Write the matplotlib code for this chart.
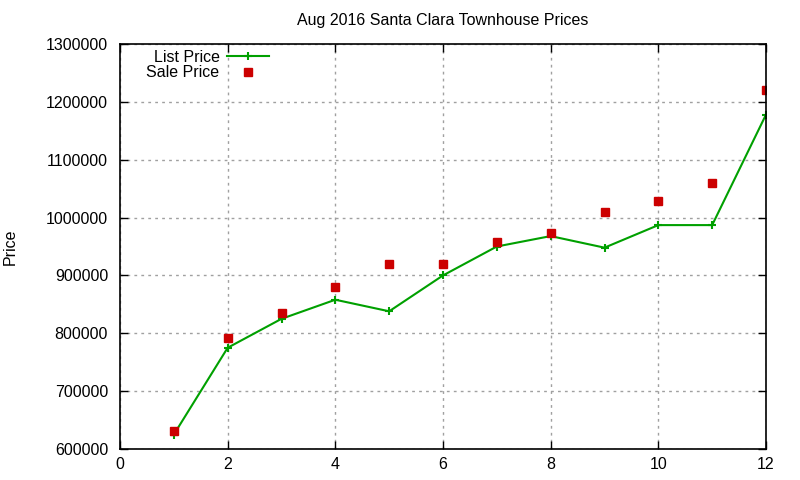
import matplotlib
matplotlib.use('Agg')
import matplotlib.pyplot as plt

plt.rcParams['font.family'] = ['Liberation Sans', 'DejaVu Sans']

# Data
months = [1, 2, 3, 4, 5, 6, 7, 8, 9, 10, 11, 12]
list_price = [625000, 775000, 825000, 858000, 838000, 900000,
              950000, 968000, 948000, 987000, 987000, 1178000]
sale_price = [631000, 792000, 835000, 880000, 920000, 920000,
              957000, 974000, 1010000, 1029000, 1060000, 1220000]

x_ticks = [0, 2, 4, 6, 8, 10, 12]
y_ticks = [600000, 700000, 800000, 900000, 1000000, 1100000, 1200000, 1300000]

fs = 11.5

fig = plt.figure(figsize=(8, 4.8), dpi=100)
ax = fig.add_axes([0.15, 0.0646, 0.8075, 0.8437])

ax.plot(months, list_price, color='#00a000', linewidth=1.5, marker='+',
        markersize=6, markeredgewidth=1.5, label='List Price')
ax.plot(months, sale_price, linestyle='none', marker='s', markersize=5.6,
        color='#cc0000', label='Sale Price')

ax.set_xlim(0, 12)
ax.set_ylim(600000, 1300000)
ax.set_xticks(x_ticks)
ax.set_yticks(y_ticks)
ax.set_xticklabels([str(v) for v in x_ticks], fontsize=fs)
ax.set_yticklabels([str(v) for v in y_ticks], fontsize=fs)
ax.tick_params(axis='y', pad=8.6)
ax.tick_params(axis='x', pad=6)
ax.tick_params(direction='in', length=6, width=1, top=True, right=True)

ax.grid(True, color='#a0a0a0', linestyle=(0, (2, 3)), linewidth=1)
for s in ax.spines.values():
    s.set_linewidth(1.2)

ax.set_title('Aug 2016 Santa Clara Townhouse Prices', fontsize=fs, pad=14)
ax.set_ylabel('Price', fontsize=fs, labelpad=20)

leg = ax.legend(loc='upper left', bbox_to_anchor=(0.026, 1.01), frameon=False,
                markerfirst=False, fontsize=fs, handlelength=2.6,
                labelspacing=0.05, handletextpad=0.5, borderaxespad=0.2)

fig.savefig('out.png', dpi=100)
